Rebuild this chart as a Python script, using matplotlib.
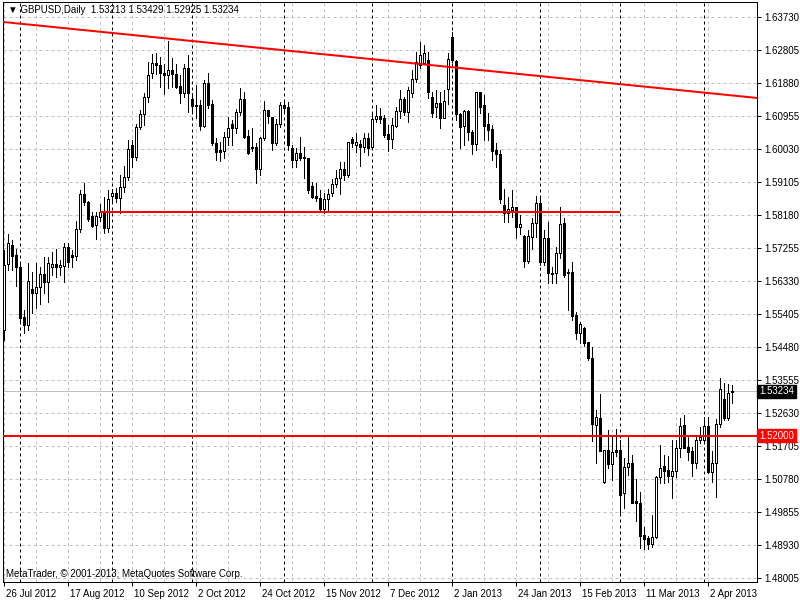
import numpy as np
import pandas as pd
import matplotlib
matplotlib.use("Agg")
import matplotlib.pyplot as plt
from matplotlib import transforms

plt.rcParams['font.family'] = ['Liberation Sans', 'DejaVu Sans']

# GBPUSD daily candles, 26 Jul 2012 .. 10 Apr 2013
opens = [1.5496, 1.5681, 1.5734, 1.5706, 1.5672, 1.5532, 1.5510, 1.5611, 1.5599, 1.5616,
         1.5653, 1.5630, 1.5672, 1.5681, 1.5672, 1.5675, 1.5728, 1.5706, 1.5703, 1.5779,
         1.5877, 1.5854, 1.5815, 1.5790, 1.5812, 1.5826, 1.5782, 1.5871, 1.5880, 1.5866,
         1.5896, 1.5925, 1.6014, 1.5981, 1.6065, 1.6101, 1.6149, 1.6216, 1.6244, 1.6239,
         1.6216, 1.6211, 1.6225, 1.6213, 1.6180, 1.6160, 1.6230, 1.6143, 1.6126, 1.6126,
         1.6068, 1.6188, 1.6129, 1.6020, 1.6000, 1.5997, 1.6037, 1.6073, 1.6062, 1.6107,
         1.6143, 1.6040, 1.6009, 1.6009, 1.5947, 1.6034, 1.6112, 1.6093, 1.6020, 1.6073,
         1.6126, 1.6121, 1.6006, 1.5972, 1.5992, 1.5981, 1.5978, 1.5899, 1.5871, 1.5866,
         1.5835, 1.5863, 1.5880, 1.5905, 1.5922, 1.5947, 1.5930, 1.6031, 1.6014, 1.6017,
         1.6009, 1.6034, 1.6009, 1.6087, 1.6096, 1.6090, 1.6045, 1.6031, 1.6068, 1.6110,
         1.6143, 1.6107, 1.6160, 1.6199, 1.6239, 1.6244, 1.6253, 1.6149, 1.6121, 1.6132,
         1.6090, 1.6171, 1.6317, 1.6250, 1.6101, 1.6068, 1.6110, 1.6051, 1.6017, 1.6163,
         1.6126, 1.6073, 1.6059, 1.6000, 1.5989, 1.5846, 1.5824, 1.5832, 1.5840, 1.5784,
         1.5759, 1.5689, 1.5756, 1.5796, 1.5852, 1.5686, 1.5754, 1.5653, 1.5656, 1.5712,
         1.5796, 1.5658, 1.5658, 1.5538, 1.5487, 1.5501, 1.5462, 1.5417, 1.5229, 1.5249,
         1.5070, 1.5159, 1.5120, 1.5159, 1.5159, 1.5039, 1.5112, 1.5123, 1.5016, 1.5011,
         1.4921, 1.4913, 1.4896, 1.4916, 1.5084, 1.5115, 1.5103, 1.5087, 1.5101, 1.5165,
         1.5229, 1.5168, 1.5157, 1.5123, 1.5187, 1.5187, 1.5227, 1.5098, 1.5123, 1.5232,
         1.5302, 1.5249, 1.53213]
highs = [1.5720, 1.5765, 1.5748, 1.5723, 1.5684, 1.5552, 1.5684, 1.5658, 1.5684, 1.5672,
         1.5700, 1.5700, 1.5714, 1.5723, 1.5692, 1.5740, 1.5740, 1.5720, 1.5801, 1.5888,
         1.5908, 1.5857, 1.5826, 1.5826, 1.5849, 1.5868, 1.5888, 1.5891, 1.5894, 1.5930,
         1.5955, 1.6028, 1.6028, 1.6073, 1.6112, 1.6160, 1.6247, 1.6269, 1.6272, 1.6261,
         1.6241, 1.6306, 1.6258, 1.6241, 1.6211, 1.6241, 1.6267, 1.6160, 1.6182, 1.6140,
         1.6196, 1.6216, 1.6140, 1.6034, 1.6023, 1.6051, 1.6093, 1.6084, 1.6115, 1.6174,
         1.6163, 1.6056, 1.6062, 1.6020, 1.6037, 1.6138, 1.6112, 1.6093, 1.6087, 1.6135,
         1.6135, 1.6135, 1.6014, 1.6006, 1.6037, 1.6009, 1.5978, 1.5911, 1.5908, 1.5888,
         1.5880, 1.5891, 1.5919, 1.5944, 1.5967, 1.5967, 1.6023, 1.6037, 1.6048, 1.6028,
         1.6048, 1.6048, 1.6104, 1.6126, 1.6118, 1.6098, 1.6070, 1.6090, 1.6121, 1.6168,
         1.6149, 1.6177, 1.6225, 1.6275, 1.6303, 1.6295, 1.6275, 1.6163, 1.6168, 1.6163,
         1.6168, 1.6272, 1.6331, 1.6253, 1.6104, 1.6112, 1.6112, 1.6056, 1.6163, 1.6163,
         1.6154, 1.6104, 1.6070, 1.6020, 1.6000, 1.5891, 1.5868, 1.5888, 1.5840, 1.5818,
         1.5762, 1.5776, 1.5810, 1.5871, 1.5868, 1.5776, 1.5798, 1.5672, 1.5728, 1.5840,
         1.5810, 1.5667, 1.5686, 1.5546, 1.5518, 1.5504, 1.5462, 1.5448, 1.5271, 1.5316,
         1.5159, 1.5215, 1.5201, 1.5218, 1.5187, 1.5137, 1.5196, 1.5145, 1.5078, 1.5042,
         1.4944, 1.4918, 1.4977, 1.5087, 1.5173, 1.5145, 1.5143, 1.5187, 1.5187, 1.5249,
         1.5257, 1.5196, 1.5168, 1.5201, 1.5224, 1.5252, 1.5252, 1.5157, 1.5246, 1.5361,
         1.5347, 1.5344, 1.53429]
lows = [1.5468, 1.5664, 1.5664, 1.5619, 1.5515, 1.5487, 1.5496, 1.5543, 1.5557, 1.5569,
        1.5599, 1.5574, 1.5650, 1.5644, 1.5650, 1.5630, 1.5672, 1.5672, 1.5692, 1.5770,
        1.5846, 1.5801, 1.5784, 1.5751, 1.5801, 1.5768, 1.5770, 1.5854, 1.5854, 1.5824,
        1.5883, 1.5916, 1.5953, 1.5972, 1.6059, 1.6070, 1.6135, 1.6202, 1.6213, 1.6177,
        1.6157, 1.6174, 1.6177, 1.6174, 1.6132, 1.6149, 1.6107, 1.6104, 1.6090, 1.6056,
        1.6065, 1.6118, 1.6014, 1.5972, 1.5969, 1.5978, 1.6014, 1.6014, 1.6048, 1.6098,
        1.6034, 1.5989, 1.5997, 1.5908, 1.5930, 1.6028, 1.6076, 1.6000, 1.6014, 1.6065,
        1.6107, 1.6000, 1.5953, 1.5953, 1.5972, 1.5922, 1.5880, 1.5866, 1.5857, 1.5832,
        1.5824, 1.5832, 1.5871, 1.5896, 1.5877, 1.5916, 1.5925, 1.6009, 1.5995, 1.5955,
        1.5995, 1.5986, 1.6006, 1.6079, 1.6076, 1.6037, 1.5997, 1.6006, 1.6065, 1.6090,
        1.6098, 1.6079, 1.6149, 1.6191, 1.6230, 1.6241, 1.6146, 1.6093, 1.6093, 1.6062,
        1.6090, 1.6129, 1.6247, 1.6084, 1.6006, 1.6014, 1.6028, 1.5989, 1.6000, 1.6104,
        1.6028, 1.6028, 1.5972, 1.5953, 1.5852, 1.5798, 1.5798, 1.5812, 1.5754, 1.5765,
        1.5672, 1.5684, 1.5723, 1.5756, 1.5678, 1.5678, 1.5628, 1.5628, 1.5628, 1.5697,
        1.5644, 1.5552, 1.5524, 1.5470, 1.5459, 1.5451, 1.5412, 1.5185, 1.5123, 1.5157,
        1.5067, 1.5109, 1.5075, 1.5143, 1.4983, 1.4997, 1.5089, 1.5011, 1.4960, 1.4885,
        1.4882, 1.4882, 1.4888, 1.4913, 1.5067, 1.5067, 1.5070, 1.5025, 1.5084, 1.5140,
        1.5165, 1.5131, 1.5087, 1.5109, 1.5179, 1.5179, 1.5095, 1.5070, 1.5028, 1.5224,
        1.5243, 1.5243, 1.52925]
closes = [1.5678, 1.5740, 1.5703, 1.5672, 1.5529, 1.5510, 1.5633, 1.5599, 1.5616, 1.5653,
          1.5630, 1.5684, 1.5681, 1.5672, 1.5678, 1.5728, 1.5686, 1.5700, 1.5779, 1.5877,
          1.5854, 1.5807, 1.5787, 1.5815, 1.5826, 1.5782, 1.5863, 1.5880, 1.5866, 1.5896,
          1.5925, 1.6003, 1.5981, 1.6065, 1.6101, 1.6149, 1.6211, 1.6244, 1.6239, 1.6216,
          1.6211, 1.6225, 1.6213, 1.6177, 1.6160, 1.6230, 1.6160, 1.6124, 1.6124, 1.6068,
          1.6188, 1.6126, 1.6020, 1.5995, 1.5995, 1.6037, 1.6062, 1.6062, 1.6107, 1.6143,
          1.6037, 1.5992, 1.6006, 1.5947, 1.6034, 1.6112, 1.6096, 1.6020, 1.6073, 1.6126,
          1.6118, 1.6014, 1.5972, 1.5992, 1.5978, 1.5978, 1.5888, 1.5868, 1.5866, 1.5835,
          1.5863, 1.5877, 1.5905, 1.5922, 1.5947, 1.5930, 1.6023, 1.6020, 1.6023, 1.6009,
          1.6034, 1.6006, 1.6087, 1.6096, 1.6087, 1.6042, 1.6031, 1.6070, 1.6110, 1.6143,
          1.6107, 1.6168, 1.6199, 1.6247, 1.6267, 1.6272, 1.6163, 1.6104, 1.6132, 1.6090,
          1.6138, 1.6255, 1.6253, 1.6101, 1.6065, 1.6110, 1.6051, 1.6017, 1.6163, 1.6121,
          1.6068, 1.6056, 1.5997, 1.5989, 1.5863, 1.5824, 1.5835, 1.5840, 1.5784, 1.5793,
          1.5689, 1.5759, 1.5796, 1.5852, 1.5686, 1.5754, 1.5656, 1.5656, 1.5712, 1.5793,
          1.5650, 1.5656, 1.5535, 1.5487, 1.5513, 1.5459, 1.5417, 1.5232, 1.5252, 1.5157,
          1.5159, 1.5120, 1.5154, 1.5154, 1.5033, 1.5112, 1.5123, 1.5011, 1.5011, 1.4918,
          1.4910, 1.4896, 1.4916, 1.5084, 1.5109, 1.5101, 1.5087, 1.5101, 1.5165, 1.5227,
          1.5165, 1.5154, 1.5123, 1.5187, 1.5196, 1.5227, 1.5098, 1.5123, 1.5232, 1.5330,
          1.5249, 1.5319, 1.53234]

date_labels = ["26 Jul 2012", "17 Aug 2012", "10 Sep 2012", "2 Oct 2012", "24 Oct 2012",
               "15 Nov 2012", "7 Dec 2012", "2 Jan 2013", "24 Jan 2013", "15 Feb 2013",
               "11 Mar 2013", "2 Apr 2013"]
price_ticks = [1.48005, 1.48930, 1.49855, 1.50780, 1.51705, 1.52630, 1.53555, 1.54480,
               1.55405, 1.56330, 1.57255, 1.58180, 1.59105, 1.60030, 1.60955, 1.61880,
               1.62805, 1.63730]
price_labels = ["%.5f" % p for p in price_ticks]

# drawn objects
trend_start = (0, 1.6359)
trend_end = (188.5, 1.6146)
support_level = 1.5826
support_from, support_to = 24, 154
level_line = 1.52000

dates = pd.bdate_range("2012-07-26", "2013-04-10")
dates = dates[~dates.isin(pd.to_datetime(["2012-12-25", "2013-01-01"]))]
x = np.arange(len(dates))
month_starts = [i for i in range(1, len(dates)) if dates[i].month != dates[i - 1].month]

px = 0.72  # one pixel in points at 100 dpi

fig = plt.figure(figsize=(8, 6), dpi=100)
ax = fig.add_axes([3 / 800, 18 / 600, 754 / 800, 580 / 600])
ax.set_xlim(-0.125, 188.375)
ax.set_ylim(1.47894, 1.64151)

grid_kw = dict(color='#c0c0c0', lw=px, ls=(0, (3, 3)), zorder=1)
ax.set_xticks(x[::16])
ax.set_xticklabels(date_labels)
ax.set_xticks(x[::8], minor=True)
ax.set_yticks(price_ticks)
ax.set_yticklabels(price_labels)
ax.grid(which='both', axis='x', **grid_kw)
ax.grid(which='major', axis='y', **grid_kw)
ax.set_axisbelow(True)

for m in month_starts:
    ax.axvline(m, color='black', lw=px, ls=(0, (3, 3)), zorder=2)

# bid line
ax.axhline(closes[-1], color='#c0c0c0', lw=px, zorder=2)

# candles
o = np.array(opens)
c = np.array(closes)
up = c >= o
ax.vlines(x, lows, highs, color='black', lw=px, zorder=3, antialiased=False)
ax.bar(x, np.maximum(np.abs(c - o), 1e-5), bottom=np.minimum(o, c), width=0.5,
       color=np.where(up, 'white', 'black'), edgecolor='black', linewidth=px,
       zorder=4, antialiased=False)

# red objects
ax.axline(trend_start, trend_end, color='red', lw=2 * px, zorder=5)
ax.hlines(support_level, support_from, support_to, color='red', lw=2 * px, zorder=5)
ax.axhline(level_line, color='red', lw=2 * px, zorder=5)

for s in ax.spines.values():
    s.set_linewidth(px)
    s.set_color('black')

ax.yaxis.tick_right()
ax.tick_params(axis='y', which='major', length=3, width=px, pad=2, labelsize=7)
ax.tick_params(axis='x', which='major', length=3, width=px, pad=2, labelsize=7)
ax.tick_params(axis='x', which='minor', length=0)
shift = transforms.ScaledTranslation(0.02, 0, fig.dpi_scale_trans)
for lab in ax.get_xticklabels():
    lab.set_horizontalalignment('left')
    lab.set_transform(lab.get_transform() + shift)

# price boxes on the scale
trans = transforms.blended_transform_factory(ax.transAxes, ax.transData)
ax.text(1.003, closes[-1], "%.5f" % closes[-1], transform=trans, color='white', fontsize=7,
        va='center', ha='left', clip_on=False, zorder=6,
        bbox=dict(boxstyle='square,pad=0.2', fc='black', ec='black'))
ax.text(1.003, level_line, "%.5f" % level_line, transform=trans, color='white', fontsize=7,
        va='center', ha='left', clip_on=False, zorder=6,
        bbox=dict(boxstyle='square,pad=0.2', fc='red', ec='red'))

ax.text(0.0066, 0.986, "\u25bc " + "GBPUSD,Daily  %.5f %.5f %.5f %.5f" % (opens[-1], highs[-1], lows[-1], closes[-1]),
        transform=ax.transAxes, fontsize=7, va='center', ha='left', zorder=7)
ax.text(0.004, 0.0138, "MetaTrader, \u00a9 2001-2013, MetaQuotes Software Corp.",
        transform=ax.transAxes, fontsize=7, va='center', ha='left', zorder=7)

fig.savefig("out.png", dpi=100)
